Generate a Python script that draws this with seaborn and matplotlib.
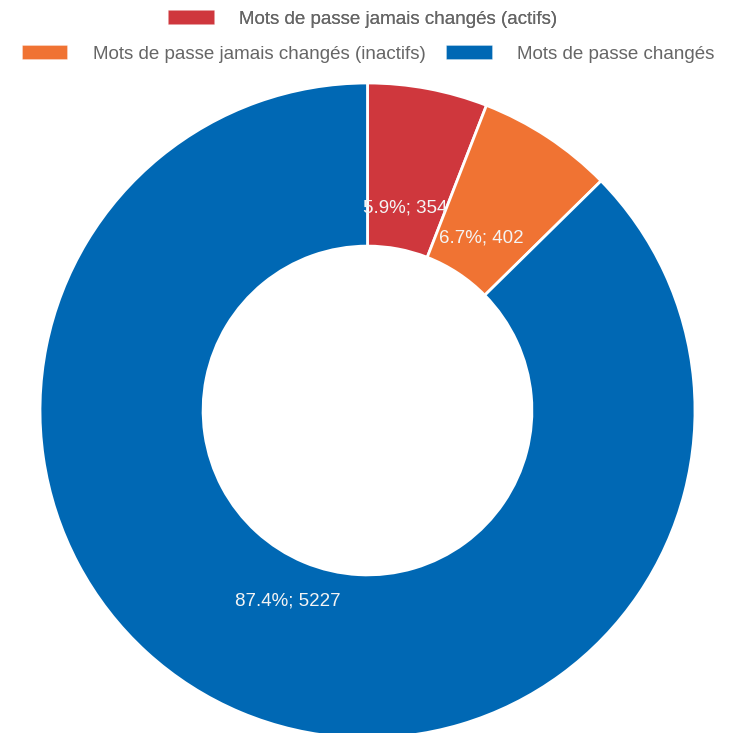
import matplotlib
matplotlib.use("Agg")
import matplotlib.pyplot as plt
import seaborn as sns
from matplotlib.patches import Patch

# data
categories = ["Mots de passe jamais changés (actifs)",
              "Mots de passe jamais changés (inactifs)",
              "Mots de passe changés"]
counts = [354, 402, 5227]
colors = ["#cf373d", "#f07333", "#0068b4"]

sns.set_theme(style="white")
plt.rcParams["font.family"] = ["Liberation Sans", "DejaVu Sans"]

fig = plt.figure(figsize=(7.29, 7.33), dpi=100)
W, H = 729, 733
cx, cy, R = 367.5, 410.5, 327.5
ax = fig.add_axes([(cx - R) / W, (H - cy - R) / H, 2 * R / W, 2 * R / H])

total = sum(counts)


def fmt(pct):
    n = int(round(pct * total / 100.0))
    return f"{pct:.1f}%; {n}"


wedges, _, autotexts = ax.pie(
    counts, colors=colors, startangle=90, counterclock=False,
    radius=1, autopct=fmt, pctdistance=0.63,
    wedgeprops=dict(width=0.498, edgecolor="white", linewidth=2),
    textprops=dict(color="#f4f4f4", fontsize=13.5),
)
ax.set_xlim(-1, 1)
ax.set_ylim(-1, 1)
ax.set_aspect("equal")
ax.axis("off")

handles = [Patch(facecolor=c, edgecolor=(1, 1, 1, 0.4), linewidth=0.5) for c in colors]
leg_kw = dict(frameon=False, fontsize=13.5, labelcolor="#666666",
              handlelength=2.45, handleheight=0.75, handletextpad=1.35,
              columnspacing=1.1, borderpad=0, loc="center")
leg1 = fig.legend(handles[:1], categories[:1], ncol=1,
                  bbox_to_anchor=(0.497, 1 - 19 / H), **leg_kw)
fig.add_artist(leg1)
fig.legend(handles[1:], categories[1:], ncol=2,
           bbox_to_anchor=(0.505, 1 - 54 / H), **leg_kw)

fig.savefig("out.png", dpi=100, facecolor="white")
